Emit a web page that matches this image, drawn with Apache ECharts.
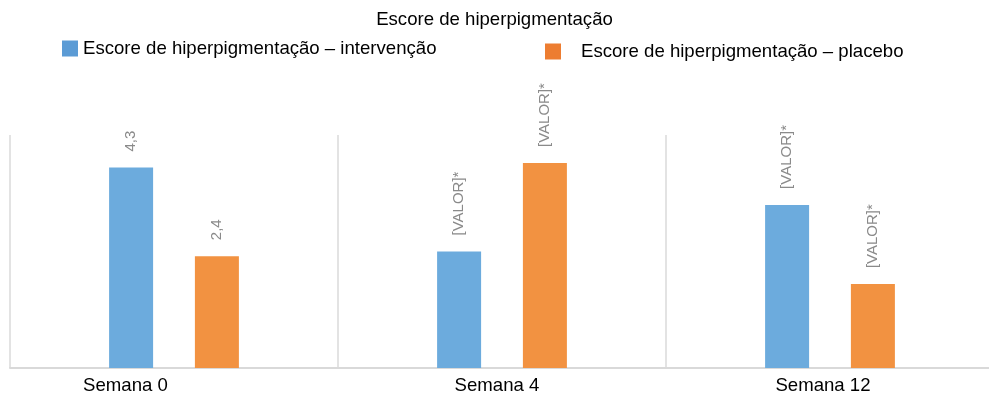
<!DOCTYPE html>
<html>
<head>
<meta charset="utf-8">
<script src="https://cdn.jsdelivr.net/npm/echarts@6/dist/echarts.min.js"></script>
<style>html,body{margin:0;padding:0;background:#fff}#c{width:989px;height:393px}</style>
</head>
<body>
<div id="c"></div>
<script>
var titleText = 'Escore de hiperpigmentação';
var categories = ['Semana 0', 'Semana 4', 'Semana 12'];
var seriesNames = ['Escore de hiperpigmentação – intervenção', 'Escore de hiperpigmentação – placebo'];
var intervencao = [4.3, 2.5, 3.5];
var placebo = [2.4, 4.4, 1.8];
var intervencaoLabels = ['4,3', '[VALOR]*', '[VALOR]*'];
var placeboLabels = ['2,4', '[VALOR]*', '[VALOR]*'];

var FONT = '"Liberation Sans", Arial, sans-serif';
var chart = echarts.init(document.getElementById('c'), null, {renderer: 'canvas'});

function labelCfg(arr) {
  return {
    show: true,
    position: 'top',
    rotate: 90,
    align: 'left',
    verticalAlign: 'middle',
    distance: 16,
    color: '#8a8a8a',
    fontFamily: FONT,
    fontSize: 15,
    formatter: function (p) { return arr[p.dataIndex]; }
  };
}

chart.setOption({
  animation: false,
  title: {
    text: titleText,
    left: 'center',
    top: 10,
    padding: 0,
    textStyle: {fontFamily: FONT, fontSize: 18.6, fontWeight: 'normal', color: '#000'}
  },
  legend: [
    {
      left: 62, top: 39, padding: 0,
      itemWidth: 16, itemHeight: 16, icon: 'rect',
      data: [{name: seriesNames[0], itemStyle: {color: '#5B9BD5'}}],
      textStyle: {fontFamily: FONT, fontSize: 18.6, color: '#000'}
    },
    {
      left: 545, top: 42, padding: 0,
      itemWidth: 16, itemHeight: 16, icon: 'rect',
      data: [{name: seriesNames[1], itemStyle: {color: '#ED7D31'}}],
      textStyle: {fontFamily: FONT, fontSize: 18.6, color: '#000', padding: [0, 0, 0, 15]}
    }
  ],
  grid: {left: 10, width: 984, top: 135, height: 233, containLabel: false, outerBoundsMode: 'none'},
  xAxis: {
    type: 'category',
    data: [
      {value: categories[0], textStyle: {padding: [0, 97, 0, 0]}},
      {value: categories[1], textStyle: {padding: [0, 10, 0, 0]}},
      {value: categories[2], textStyle: {padding: [0, 14, 0, 0]}}
    ],
    axisLine: {lineStyle: {color: '#d9d9d9', width: 2}},
    axisTick: {show: false},
    splitLine: {show: true, lineStyle: {color: '#e3e3e3', width: 2}},
    axisLabel: {fontFamily: FONT, fontSize: 18.6, color: '#000', margin: 8}
  },
  yAxis: {
    type: 'value', min: 0, max: 5, show: false,
    splitLine: {show: false}
  },
  series: [
    {
      name: seriesNames[0], type: 'bar', data: intervencao,
      barWidth: 44, barGap: '95%',
      itemStyle: {color: '#6CABDD'},
      label: labelCfg(intervencaoLabels)
    },
    {
      name: seriesNames[1], type: 'bar', data: placebo,
      barWidth: 44,
      itemStyle: {color: '#F29241'},
      label: labelCfg(placeboLabels)
    }
  ]
});
</script>
</body>
</html>
